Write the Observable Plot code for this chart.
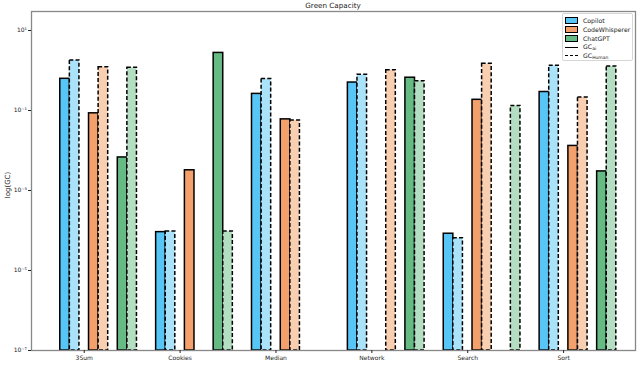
<!DOCTYPE html>
<html>
<head>
<meta charset="utf-8">
<script src="https://cdn.jsdelivr.net/npm/d3@7"></script>
<script src="https://cdn.jsdelivr.net/npm/@observablehq/plot@0.6"></script>
<style>
  html, body { margin: 0; padding: 0; background: white; }
  #wrap { position: relative; width: 640px; height: 365px; font-family: "DejaVu Sans", sans-serif; color: #222; }
  #title { position: absolute; top: 0; left: 31px; width: 604px; text-align: center; font-size: 7.2px; line-height: 11px; }
  #ylabel { position: absolute; left: 8px; top: 185px; transform: translate(-50%, -50%) rotate(-90deg); font-size: 7px; white-space: nowrap; }
  #legend { position: absolute; left: 562px; top: 13px; width: 71px; height: 48px; border: 1px solid #d6d6d6; border-radius: 2px; background: rgba(255,255,255,0.85); box-sizing: border-box; }
  .row { position: absolute; left: 2px; height: 8px; display: flex; align-items: center; font-size: 6.2px; white-space: nowrap; }
  .sw { width: 11px; height: 5px; border: 1px solid #000; margin-right: 5px; }
  .ln { width: 13px; height: 0; border-top: 1px solid #000; margin-right: 5px; }
  .ln.dash { border-top: 1px dashed #000; }
  sub { font-size: 4.5px; vertical-align: -1px; }
</style>
</head>
<body>
<div id="wrap">
  <div id="chart"></div>
  <div id="title">Green Capacity</div>
  <div id="ylabel">log(GC)</div>
  <div id="legend"></div>
</div>
<script>
// ---- data ----
const tasks = ["3Sum", "Cookies", "Median", "Network", "Search", "Sort"];
const tools = ["Copilot", "CodeWhisperer", "ChatGPT"];
// GC_ai (solid) and GC_Human (dashed) per task; 0 = no bar
const copilotAI    = [0.62, 9.1e-5, 0.26, 0.50, 8.3e-5, 0.29];
const copilotHuman = [1.78, 9.4e-5, 0.61, 0.78, 6.4e-5, 1.31];
const cwAI         = [0.085, 3.2e-3, 0.060, 0, 0.185, 0.013];
const cwHuman      = [1.21, 0, 0.056, 1.02, 1.47, 0.21];
const gptAI        = [0.0067, 2.75, 0, 0.66, 0, 0.003];
const gptHuman     = [1.17, 9.4e-5, 0, 0.54, 0.13, 1.26];
const yTicks = [1e1, 1e-1, 1e-3, 1e-5, 1e-7];
const yTickLabels = ["10\u00b9", "10\u207b\u00b9", "10\u207b\u00b3", "10\u207b\u2075", "10\u207b\u2077"];
const yDomain = [1e-7, 29.85];
const colorsAI = ["#57c5f5", "#f4a06d", "#66bb84"];
const colorsHuman = ["#aae2f9", "#f9cfb1", "#b4dec1"];

// ---- build table ----
const seriesList = [
  {tool: "Copilot", kind: "ai", values: copilotAI},
  {tool: "Copilot", kind: "human", values: copilotHuman},
  {tool: "CodeWhisperer", kind: "ai", values: cwAI},
  {tool: "CodeWhisperer", kind: "human", values: cwHuman},
  {tool: "ChatGPT", kind: "ai", values: gptAI},
  {tool: "ChatGPT", kind: "human", values: gptHuman}
];
const slots = ["lead1", "lead2", "lead3"];
for (const t of tasks) {
  slots.push(`${t}|Copilot|ai`, `${t}|Copilot|human`, `${t}|gap1`,
             `${t}|CodeWhisperer|ai`, `${t}|CodeWhisperer|human`, `${t}|gap2`,
             `${t}|ChatGPT|ai`, `${t}|ChatGPT|human`, `${t}|s1`, `${t}|s2`);
}
const rows = [];
for (const s of seriesList) {
  tasks.forEach((t, i) => {
    const v = s.values[i];
    if (v > 0) rows.push({key: `${t}|${s.tool}|${s.kind}`, value: v, series: `${s.tool}|${s.kind}`, kind: s.kind});
  });
}
const colorDomain = [], colorRange = [];
tools.forEach((tool, i) => {
  colorDomain.push(`${tool}|ai`, `${tool}|human`);
  colorRange.push(colorsAI[i], colorsHuman[i]);
});

const chart = Plot.plot({
  width: 640,
  height: 365,
  marginLeft: 31,
  marginRight: 5,
  marginTop: 11,
  marginBottom: 15,
  style: {fontFamily: "DejaVu Sans, sans-serif", background: "white", color: "#222"},
  x: {type: "band", domain: slots, padding: 0, axis: null},
  y: {type: "log", domain: yDomain, axis: null},
  color: {domain: colorDomain, range: colorRange},
  marks: [
    Plot.barY(rows.filter(d => d.kind === "ai"), {x: "key", y1: yDomain[0], y2: "value", fill: "series", stroke: "black", strokeWidth: 1.5}),
    Plot.barY(rows.filter(d => d.kind === "human"), {x: "key", y1: yDomain[0], y2: "value", fill: "series", stroke: "black", strokeWidth: 1.5, strokeDasharray: "4,2.2"}),
    Plot.frame({stroke: "#888", strokeWidth: 1.3}),
    Plot.axisX({ticks: tasks.map(t => `${t}|gap1`), tickFormat: d => d.split("|")[0], tickSize: 3, tickPadding: 2, fontSize: 6, label: null}),
    Plot.axisY({ticks: yTicks, tickFormat: d => yTickLabels[yTicks.indexOf(d)], tickSize: 3, tickPadding: 1.5, fontSize: 6, label: null})
  ]
});
document.getElementById("chart").appendChild(chart);

// ---- legend ----
const legend = document.getElementById("legend");
const legendItems = [
  ...tools.map((t, i) => `<div class="sw" style="background:${colorsAI[i]}"></div><span>${t}</span>`),
  `<div class="ln"></div><span>GC<sub>ai</sub></span>`,
  `<div class="ln dash"></div><span>GC<sub>Human</sub></span>`
];
legendItems.forEach((html, i) => {
  const r = document.createElement("div");
  r.className = "row";
  r.style.top = (2.5 + i * 8.85) + "px";
  r.innerHTML = html;
  legend.appendChild(r);
});
</script>
</body>
</html>
